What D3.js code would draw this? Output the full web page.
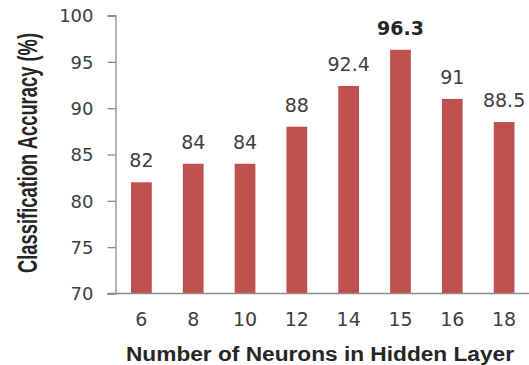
<!DOCTYPE html>
<html>
<head>
<meta charset="utf-8">
<script src="https://cdn.jsdelivr.net/npm/d3@7"></script>
<style>
  html, body { margin: 0; padding: 0; background: #fff; }
  svg { display: block; }
</style>
</head>
<body>
<svg id="chart" width="529" height="365"></svg>
<script>
const categories = ["6", "8", "10", "12", "14", "15", "16", "18"];
const accuracy = [82, 84, 84, 88, 92.4, 96.3, 91, 88.5];
const labels = ["82", "84", "84", "88", "92.4", "96.3", "91", "88.5"];
const highlight = [false, false, false, false, false, true, false, false];
const yTicks = [70, 75, 80, 85, 90, 95, 100];
const yDomain = [70, 100];
const xTitle = "Number of Neurons in Hidden Layer";
const yTitle = "Classification Accuracy (%)";

(function () {
const data = categories.map((c, i) => ({ c, v: accuracy[i], l: labels[i], h: highlight[i] }));

const svg = d3.select("#chart");
const mLeft = 115.5, mRight = 530, mTop = 15.5, mBottom = 293.5;

const x = d3.scaleBand().domain(categories).range([mLeft, mRight])
  .paddingInner(0.6).paddingOuter(0.3);
const y = d3.scaleLinear().domain(yDomain).range([mBottom, mTop]);

const axisColor = "#8c8c8c";
const textColor = "#404040";

// bars
svg.append("g").selectAll("rect").data(data).join("rect")
  .attr("x", d => x(d.c))
  .attr("width", x.bandwidth())
  .attr("y", d => y(d.v))
  .attr("height", d => y(yDomain[0]) - y(d.v))
  .attr("fill", "#C0504D");

// y axis
const yAxis = svg.append("g").attr("transform", `translate(${mLeft},0)`)
  .call(d3.axisLeft(y).tickValues(yTicks).tickSize(8).tickPadding(14).tickFormat(d3.format("d")));
yAxis.select(".domain").attr("stroke", axisColor).attr("stroke-width", 1.3);
yAxis.selectAll(".tick line").attr("stroke", axisColor).attr("stroke-width", 1.3);
yAxis.selectAll(".tick text")
  .attr("fill", textColor)
  .style("font-family", "'DejaVu Sans', sans-serif")
  .style("font-size", "18px")
  .attr("dy", "0.36em");

// x axis
const xAxis = svg.append("g").attr("transform", `translate(0,${mBottom})`)
  .call(d3.axisBottom(x).tickSize(0).tickPadding(19));
xAxis.select(".domain").attr("d", `M${mLeft - 8},0H529`).attr("stroke", axisColor).attr("stroke-width", 1.3);
xAxis.selectAll(".tick text")
  .attr("fill", textColor)
  .style("font-family", "'DejaVu Sans', sans-serif")
  .style("font-size", "19px")
  .attr("dy", "0.71em");

// data labels
svg.append("g").selectAll("text").data(data).join("text")
  .attr("x", d => x(d.c) + x.bandwidth() / 2)
  .attr("y", d => y(d.v) - 15)
  .attr("text-anchor", "middle")
  .attr("fill", d => d.h ? "#262626" : textColor)
  .style("font-family", "'DejaVu Sans', sans-serif")
  .style("font-size", "19px")
  .style("font-weight", d => d.h ? "bold" : "normal")
  .text(d => d.l);

// x title
svg.append("text")
  .attr("x", 320).attr("y", 360.5)
  .attr("text-anchor", "middle")
  .attr("fill", "#262626")
  .style("font-family", "'Liberation Sans', Arial, sans-serif")
  .style("font-size", "20px")
  .style("font-weight", "bold")
  .attr("textLength", 388)
  .attr("lengthAdjust", "spacingAndGlyphs")
  .text(xTitle);

// y title
svg.append("text")
  .attr("transform", "translate(37,153) scale(1.45,1) rotate(-90)")
  .attr("text-anchor", "middle")
  .attr("fill", "#262626")
  .style("font-family", "'Liberation Sans', Arial, sans-serif")
  .style("font-size", "19px")
  .style("font-weight", "bold")
  .attr("textLength", 240)
  .attr("lengthAdjust", "spacingAndGlyphs")
  .text(yTitle);
})();
</script>
</body>
</html>
